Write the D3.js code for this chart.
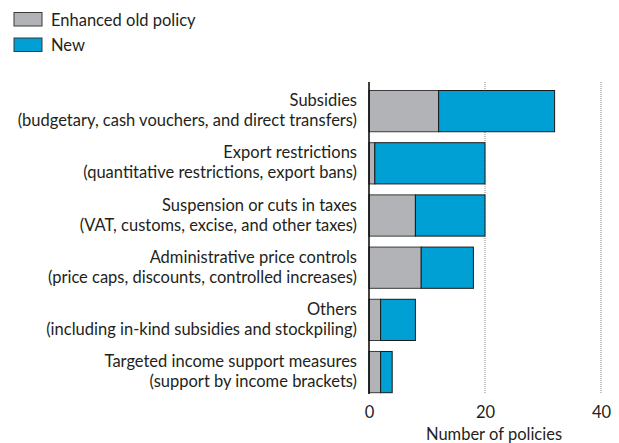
<!DOCTYPE html>
<html>
<head>
<meta charset="utf-8">
<script src="https://cdn.jsdelivr.net/npm/d3@7"></script>
<style>
  body { margin: 0; background: #fff; }
  svg { font-family: Lato, "Open Sans", sans-serif; }
</style>
</head>
<body>
<div id="chart"></div>
<script>
const categories = [
    ["Subsidies", "(budgetary, cash vouchers, and direct transfers)"],
    ["Export restrictions", "(quantitative restrictions, export bans)"],
    ["Suspension or cuts in taxes", "(VAT, customs, excise, and other taxes)"],
    ["Administrative price controls", "(price caps, discounts, controlled increases)"],
    ["Others", "(including in-kind subsidies and stockpiling)"],
    ["Targeted income support measures", "(support by income brackets)"]
];
const enhancedOld = [12, 1, 8, 9, 2, 2];
const newPolicy = [20, 19, 12, 9, 6, 2];
const seriesNames = ["Enhanced old policy", "New"];
const xTicks = [0, 20, 40];

const width = 619, height = 443;
const colors = ["#b1b3b6", "#009fd4"];

const svg = d3.select("#chart")
    .append("svg")
    .attr("width", width)
    .attr("height", height);

const x = d3.scaleLinear()
    .domain([0, 40])
    .range([369, 601]);

const y = d3.scaleBand()
    .domain(d3.range(categories.length))
    .range([90.5, 392.7])
    .paddingInner(0.21)
    .paddingOuter(0);

// gridlines
svg.selectAll(".grid")
    .data(xTicks.filter(d => d > 0))
    .enter()
    .append("line")
    .attr("x1", d => x(d))
    .attr("x2", d => x(d))
    .attr("y1", 82)
    .attr("y2", 394)
    .attr("stroke", "#888")
    .attr("stroke-width", 1)
    .attr("stroke-dasharray", "1,1");

const rows = categories.map((c, i) => ({
    i: i,
    old: enhancedOld[i],
    nw: newPolicy[i]
}));

const g = svg.selectAll(".row")
    .data(rows)
    .enter()
    .append("g");

g.append("rect")
    .attr("x", x(0))
    .attr("y", d => y(d.i))
    .attr("width", d => x(d.old) - x(0))
    .attr("height", y.bandwidth())
    .attr("fill", colors[0])
    .attr("stroke", "#3a3a3a")
    .attr("stroke-width", 1);

g.append("rect")
    .attr("x", d => x(d.old))
    .attr("y", d => y(d.i))
    .attr("width", d => x(d.old + d.nw) - x(d.old))
    .attr("height", y.bandwidth())
    .attr("fill", colors[1])
    .attr("stroke", "#1a1a1a")
    .attr("stroke-width", 1);

// category labels
const labels = svg.selectAll(".cat")
    .data(rows)
    .enter()
    .append("text")
    .attr("text-anchor", "end")
    .style("font-size", "16.5px")
    .style("fill", "#231f20");

labels.append("tspan")
    .attr("x", 357)
    .attr("y", d => y(d.i) + y.bandwidth() / 2 - 5)
    .text(d => categories[d.i][0]);

labels.append("tspan")
    .attr("x", 357)
    .attr("y", d => y(d.i) + y.bandwidth() / 2 + 15)
    .text(d => categories[d.i][1]);

// y axis line
svg.append("line")
    .attr("x1", x(0))
    .attr("x2", x(0))
    .attr("y1", 82)
    .attr("y2", 394)
    .attr("stroke", "#000")
    .attr("stroke-width", 1.5);

// x axis
const xAxis = svg.append("g")
    .attr("transform", "translate(0,401)")
    .call(d3.axisBottom(x).tickValues(xTicks).tickSize(0).tickPadding(0));
xAxis.select(".domain").remove();
xAxis.selectAll("text")
    .attr("dy", "0")
    .attr("y", 17)
    .style("font-family", "Lato, sans-serif")
    .style("font-size", "16.5px")
    .style("fill", "#231f20");

svg.append("text")
    .attr("x", 494)
    .attr("y", 439.5)
    .attr("text-anchor", "middle")
    .style("font-size", "16.5px")
    .style("fill", "#231f20")
    .text("Number of policies");

// legend
const legend = svg.selectAll(".legend")
    .data(seriesNames)
    .enter()
    .append("g")
    .attr("transform", (d, i) => `translate(14,${12.5 + i * 25.5})`);

legend.append("rect")
    .attr("width", 28)
    .attr("height", 13.5)
    .attr("fill", (d, i) => colors[i])
    .attr("stroke", "#3a3a3a")
    .attr("stroke-width", 1);

legend.append("text")
    .attr("x", 37)
    .attr("y", 13)
    .style("font-size", "16.5px")
    .style("fill", "#231f20")
    .text(d => d);
</script>
</body>
</html>
